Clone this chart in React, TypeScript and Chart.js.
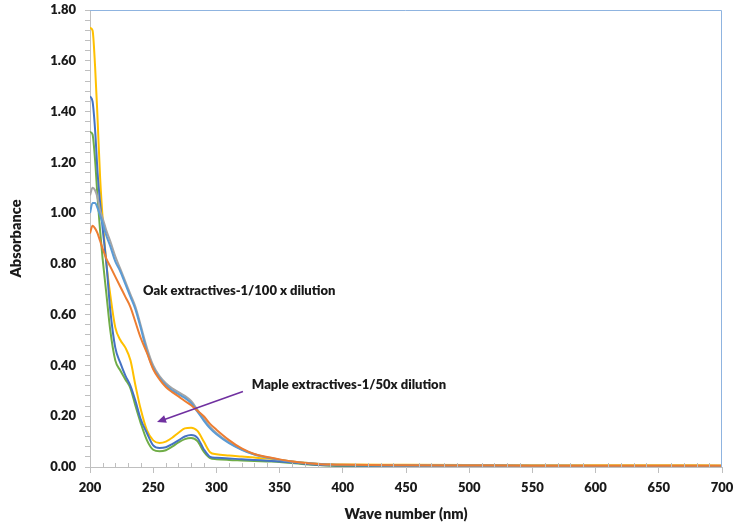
import React, { useEffect, useRef } from "react";
import { Chart, registerables } from "chart.js";

Chart.register(...registerables);

const wavelengths = [200, 202, 204, 206, 208, 210, 213, 216, 220, 224, 228, 232, 236, 240, 245, 250, 255, 260, 265, 270, 275, 280, 285, 290, 295, 300, 310, 320, 330, 340, 350, 360, 370, 380, 390, 400, 450, 500, 550, 600, 650, 700];

const oakA = [0.92, 0.95, 0.94, 0.92, 0.89, 0.86, 0.82, 0.79, 0.75, 0.71, 0.67, 0.63, 0.57, 0.51, 0.45, 0.385, 0.345, 0.315, 0.295, 0.278, 0.26, 0.243, 0.222, 0.2, 0.17, 0.147, 0.106, 0.073, 0.051, 0.039, 0.03, 0.022, 0.016, 0.012, 0.01, 0.009, 0.007, 0.006, 0.005, 0.005, 0.005, 0.005];
const oakB = [1.0, 1.04, 1.04, 1.02, 0.99, 0.96, 0.91, 0.87, 0.81, 0.77, 0.72, 0.67, 0.62, 0.55, 0.455, 0.39, 0.35, 0.322, 0.302, 0.287, 0.272, 0.252, 0.218, 0.183, 0.152, 0.129, 0.094, 0.068, 0.049, 0.037, 0.028, 0.021, 0.016, 0.012, 0.009, 0.008, 0.006, 0.005, 0.005, 0.004, 0.004, 0.004];
const oakC = [1.07, 1.1, 1.09, 1.06, 1.01, 0.98, 0.93, 0.89, 0.83, 0.78, 0.73, 0.68, 0.63, 0.56, 0.47, 0.4, 0.358, 0.33, 0.31, 0.295, 0.28, 0.26, 0.225, 0.19, 0.158, 0.134, 0.097, 0.07, 0.05, 0.038, 0.029, 0.022, 0.017, 0.013, 0.01, 0.009, 0.007, 0.006, 0.005, 0.005, 0.005, 0.005];
const mapleA = [1.46, 1.44, 1.33, 1.16, 1.04, 0.94, 0.8, 0.62, 0.47, 0.41, 0.36, 0.32, 0.26, 0.19, 0.134, 0.085, 0.075, 0.078, 0.09, 0.105, 0.12, 0.126, 0.115, 0.07, 0.04, 0.036, 0.033, 0.031, 0.028, 0.025, 0.022, 0.018, 0.013, 0.009, 0.007, 0.006, 0.005, 0.005, 0.004, 0.004, 0.004, 0.004];
const mapleB = [1.73, 1.72, 1.58, 1.37, 1.14, 0.98, 0.8, 0.68, 0.55, 0.5, 0.47, 0.42, 0.32, 0.23, 0.145, 0.105, 0.095, 0.1, 0.115, 0.135, 0.152, 0.155, 0.142, 0.1, 0.058, 0.05, 0.045, 0.041, 0.037, 0.033, 0.028, 0.022, 0.017, 0.013, 0.011, 0.01, 0.009, 0.008, 0.007, 0.007, 0.007, 0.006];
const mapleC = [1.32, 1.31, 1.21, 1.06, 0.93, 0.82, 0.68, 0.54, 0.42, 0.38, 0.345, 0.31, 0.24, 0.175, 0.106, 0.068, 0.062, 0.066, 0.08, 0.097, 0.11, 0.114, 0.102, 0.06, 0.035, 0.031, 0.028, 0.026, 0.024, 0.022, 0.02, 0.016, 0.011, 0.008, 0.005, 0.004, 0.004, 0.004, 0.003, 0.003, 0.003, 0.003];

const seriesList = [
  { name: "Oak 1", values: oakA, color: "#ED7D31" },
  { name: "Oak 2", values: oakB, color: "#5B9BD5" },
  { name: "Oak 3", values: oakC, color: "#A5A5A5" },
  { name: "Maple 1", values: mapleA, color: "#4472C4" },
  { name: "Maple 2", values: mapleB, color: "#FFC000" },
  { name: "Maple 3", values: mapleC, color: "#70AD47" },
];

const oakLabel = "Oak extractives-1/100 x dilution";
const mapleLabel = "Maple extractives-1/50x dilution";
const xTitle = "Wave number (nm)";
const yTitle = "Absorbance";

const FONT = "Lato, 'Open Sans', sans-serif";
const WEIGHT = "800";

const decorPlugin = {
  id: "decor",
  afterDatasetsDraw(chart: any) {
    const { ctx, chartArea, scales } = chart;
    const xs = scales.x;
    const ys = scales.y;
    ctx.save();
    ctx.strokeStyle = "#8FB4E0";
    ctx.lineWidth = 1;
    ctx.beginPath();
    ctx.moveTo(chartArea.left, chartArea.top + 0.5);
    ctx.lineTo(chartArea.right - 0.5, chartArea.top + 0.5);
    ctx.lineTo(chartArea.right - 0.5, chartArea.bottom);
    ctx.stroke();
    ctx.strokeStyle = "#BFBFBF";
    ctx.beginPath();
    for (let v = 210; v < 700; v += 10) {
      if (v % 50 === 0) continue;
      const px = Math.round(xs.getPixelForValue(v)) + 0.5;
      ctx.moveTo(px, chartArea.bottom);
      ctx.lineTo(px, chartArea.bottom - 4);
    }
    ctx.stroke();
    ctx.fillStyle = "#1a1a1a";
    ctx.font = WEIGHT + " 13px " + FONT;
    ctx.textBaseline = "middle";
    ctx.textAlign = "left";
    ctx.fillText(oakLabel, xs.getPixelForValue(242), ys.getPixelForValue(0.693));
    ctx.fillText(mapleLabel, xs.getPixelForValue(328), ys.getPixelForValue(0.323));
    const x1 = xs.getPixelForValue(321), y1 = ys.getPixelForValue(0.297);
    const x2 = xs.getPixelForValue(253), y2 = ys.getPixelForValue(0.177);
    ctx.strokeStyle = "#7030A0";
    ctx.fillStyle = "#7030A0";
    ctx.lineWidth = 1.6;
    const ang = Math.atan2(y2 - y1, x2 - x1);
    const hl = 9, hw = 4;
    ctx.beginPath();
    ctx.moveTo(x1, y1);
    ctx.lineTo(x2 - Math.cos(ang) * hl * 0.8, y2 - Math.sin(ang) * hl * 0.8);
    ctx.stroke();
    ctx.beginPath();
    ctx.moveTo(x2, y2);
    ctx.lineTo(x2 - Math.cos(ang) * hl - Math.sin(ang) * hw, y2 - Math.sin(ang) * hl + Math.cos(ang) * hw);
    ctx.lineTo(x2 - Math.cos(ang) * hl + Math.sin(ang) * hw, y2 - Math.sin(ang) * hl - Math.cos(ang) * hw);
    ctx.closePath();
    ctx.fill();
    ctx.restore();
  },
};

export default function App() {
  const ref = useRef<HTMLCanvasElement | null>(null);
  useEffect(() => {
    if (!ref.current) return;
    const chart = new Chart(ref.current, {
      type: "line",
      data: {
        datasets: seriesList.map((s) => ({
          label: s.name,
          data: wavelengths.map((w, i) => ({ x: w, y: s.values[i] })),
          borderColor: s.color,
          backgroundColor: s.color,
          borderWidth: 2,
          pointRadius: 0,
          tension: 0.4,
          cubicInterpolationMode: "monotone" as const,
          fill: false,
        })),
      },
      options: {
        animation: false,
        responsive: false,
        maintainAspectRatio: false,
        layout: { padding: { left: 0, top: 10, right: 14, bottom: 0 } },
        plugins: { legend: { display: false }, tooltip: { enabled: false } },
        scales: {
          x: {
            type: "linear",
            min: 200,
            max: 700,
            afterFit: (s: any) => { s.height = 63; s.paddingLeft = 0; s.paddingRight = 0; },
            ticks: {
              stepSize: 10,
              autoSkip: false,
              maxRotation: 0,
              padding: 7,
              color: "#1a1a1a",
              font: { family: FONT, size: 13, weight: WEIGHT },
              callback: (v: any) => (Math.round(v) % 50 === 0 ? String(Math.round(v)) : ""),
            },
            grid: {
              drawOnChartArea: false,
              tickLength: 6,
              color: (c: any) => (c.tick && Math.round(c.tick.value) % 50 === 0 ? "#BFBFBF" : "rgba(0,0,0,0)"),
            },
            border: { color: "#BFBFBF", width: 1 },
            title: {
              display: true,
              text: xTitle,
              color: "#1a1a1a",
              font: { family: FONT, size: 14.5, weight: WEIGHT },
              padding: { top: 0, bottom: 7 },
            },
          },
          y: {
            type: "linear",
            min: 0,
            max: 1.8,
            afterFit: (s: any) => { s.width = 90; s.paddingTop = 0; s.paddingBottom = 0; },
            ticks: {
              stepSize: 0.04,
              autoSkip: false,
              padding: 9,
              color: "#1a1a1a",
              font: { family: FONT, size: 13, weight: WEIGHT },
              callback: (v: any) => (Math.round(v * 100) % 20 === 0 ? Number(v).toFixed(2) : ""),
            },
            grid: { drawOnChartArea: false, tickLength: 5, color: "#BFBFBF" },
            border: { color: "#BFBFBF", width: 1 },
            title: {
              display: true,
              text: yTitle,
              color: "#1a1a1a",
              font: { family: FONT, size: 14.5, weight: WEIGHT },
              padding: { top: 8, bottom: 0 },
            },
          },
        },
      },
      plugins: [decorPlugin],
    });
    return () => chart.destroy();
  }, []);
  return (
    <div style={{ position: "absolute", left: 0, top: 0, width: 736, height: 530, background: "#fff" }}>
      <canvas ref={ref} width={736} height={530} style={{ width: 736, height: 530 }} />
    </div>
  );
}
